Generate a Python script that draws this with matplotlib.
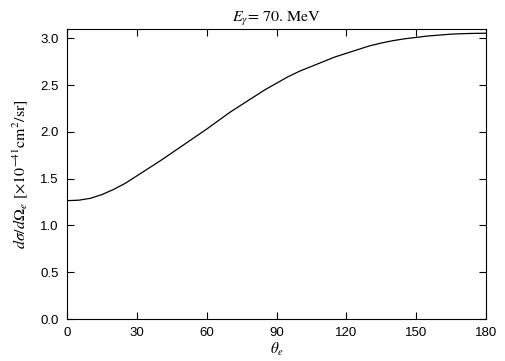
import matplotlib
matplotlib.use("Agg")
import matplotlib.pyplot as plt

# Angle of the electron (degrees) and cross section
theta = [0, 5, 10, 15, 20, 25, 30, 35, 40, 45, 50, 55, 60, 65, 70, 75, 80, 85, 90,
         95, 100, 105, 110, 115, 120, 125, 130, 135, 140, 145, 150, 155, 160,
         165, 170, 175, 180]
dsigma = [1.265, 1.27, 1.29, 1.33, 1.385, 1.45, 1.53, 1.61, 1.69, 1.775, 1.86,
          1.945, 2.03, 2.12, 2.21, 2.29, 2.37, 2.45, 2.52, 2.59, 2.65, 2.70,
          2.75, 2.80, 2.84, 2.88, 2.92, 2.95, 2.975, 2.995, 3.01, 3.025, 3.035,
          3.045, 3.05, 3.053, 3.055]

xticks = [0, 30, 60, 90, 120, 150, 180]
yticks = [0.0, 0.5, 1.0, 1.5, 2.0, 2.5, 3.0]

plt.rcParams['font.family'] = ['Liberation Sans', 'DejaVu Sans']
plt.rcParams['mathtext.fontset'] = 'stix'

fig = plt.figure(figsize=(5.05, 3.61), dpi=100)
ax = fig.add_axes([0.1327, 0.1163, 0.8297, 0.8034])

ax.plot(theta, dsigma, color='black', linewidth=0.9)

ax.set_xlim(0, 180)
ax.set_ylim(0, 3.1)
ax.set_xticks(xticks)
ax.set_xticklabels([str(t) for t in xticks])
ax.set_yticks(yticks)
ax.set_yticklabels(['%.1f' % v for v in yticks])
ax.tick_params(direction='in', length=5, width=0.8, top=True, right=True,
               labelsize=9.5, pad=6)
for s in ax.spines.values():
    s.set_linewidth(0.8)

ax.set_title(r'$E_\gamma$= 70. MeV', fontsize=11.5, family='STIXGeneral', pad=5)
ax.set_xlabel(r'$\theta_e$', fontsize=11, labelpad=1)
ax.set_ylabel(r'$d\sigma/d\Omega_e$ [$\times$10$^{-41}$cm$^2$/sr]',
              fontsize=11.5, family='STIXGeneral', labelpad=7)

fig.savefig('out.png', dpi=100)
